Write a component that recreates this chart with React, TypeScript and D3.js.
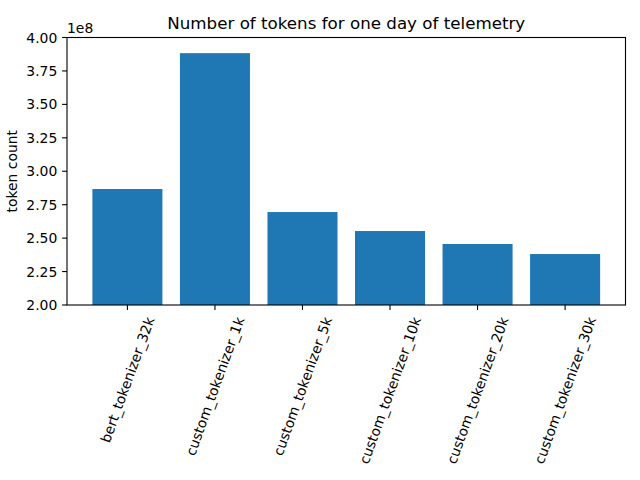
import { useEffect, useRef } from 'react';
import * as d3 from 'd3';

const tokenizers = [
  'bert_tokenizer_32k',
  'custom_tokenizer_1k',
  'custom_tokenizer_5k',
  'custom_tokenizer_10k',
  'custom_tokenizer_20k',
  'custom_tokenizer_30k',
];
const tokenCounts = [2.867e8, 3.883e8, 2.695e8, 2.553e8, 2.456e8, 2.381e8];
const yTicks = [2.0, 2.25, 2.5, 2.75, 3.0, 3.25, 3.5, 3.75, 4.0];

const FONT = '"DejaVu Sans", sans-serif';

export default function App() {
  const ref = useRef<SVGSVGElement>(null);

  useEffect(() => {
    if (!ref.current) return;
    const svg = d3.select(ref.current);
    svg.selectAll('*').remove();

    const left = 67, right = 625.5, top = 37.5, bottom = 305;
    const barWidth = 0.8;
    const pad = (tokenizers.length - 1 + barWidth) * 0.05;

    const x = d3.scaleLinear()
      .domain([-barWidth / 2 - pad, tokenizers.length - 1 + barWidth / 2 + pad])
      .range([left, right]);
    const y = d3.scaleLinear().domain([2.0, 4.0]).range([bottom, top]);

    // bars
    svg.append('g')
      .selectAll('rect')
      .data(tokenCounts)
      .enter()
      .append('rect')
      .attr('x', (_, i) => x(i - barWidth / 2))
      .attr('width', x(barWidth) - x(0))
      .attr('y', d => y(d / 1e8))
      .attr('height', d => bottom - y(d / 1e8))
      .attr('fill', '#1f77b4');

    // y axis ticks
    const yg = svg.append('g');
    yTicks.forEach(t => {
      yg.append('line')
        .attr('x1', left - 4.9).attr('x2', left)
        .attr('y1', y(t)).attr('y2', y(t))
        .attr('stroke', 'black').attr('stroke-width', 1.1);
      yg.append('text')
        .text(t.toFixed(2))
        .attr('x', left - 9.7)
        .attr('y', y(t))
        .attr('dy', '0.36em')
        .attr('text-anchor', 'end')
        .attr('font-family', FONT)
        .attr('font-size', 13.9)
        .attr('fill', 'black');
    });

    // x axis ticks + rotated labels
    const xg = svg.append('g');
    const fs = 13.9;
    const lineH = fs * 1.17;
    const rad = (70 * Math.PI) / 180;
    tokenizers.forEach((name, i) => {
      const cx = x(i);
      xg.append('line')
        .attr('x1', cx).attr('x2', cx)
        .attr('y1', bottom).attr('y2', bottom + 4.9)
        .attr('stroke', 'black').attr('stroke-width', 1.1);
      const label = xg.append('text')
        .text(name)
        .attr('font-family', FONT)
        .attr('font-size', fs)
        .attr('fill', 'black')
        .attr('text-anchor', 'middle')
        .attr('dominant-baseline', 'central');
      const len = (label.node() as SVGTextElement).getComputedTextLength();
      const boxH = len * Math.sin(rad) + lineH * Math.cos(rad);
      const cy = bottom + 4.9 + 4.9 + boxH / 2;
      label.attr('transform', `translate(${cx},${cy}) rotate(-70)`);
    });

    // spines
    svg.append('rect')
      .attr('x', left).attr('y', top)
      .attr('width', right - left).attr('height', bottom - top)
      .attr('fill', 'none')
      .attr('stroke', 'black')
      .attr('stroke-width', 1.1);

    // offset text
    svg.append('text')
      .text('1e8')
      .attr('x', left)
      .attr('y', top - 5)
      .attr('font-family', FONT)
      .attr('font-size', fs)
      .attr('fill', 'black');

    // title
    svg.append('text')
      .text('Number of tokens for one day of telemetry')
      .attr('x', (left + right) / 2)
      .attr('y', top - 9)
      .attr('text-anchor', 'middle')
      .attr('font-family', FONT)
      .attr('font-size', 16.7)
      .attr('fill', 'black');

    // y label
    svg.append('text')
      .text('token count')
      .attr('transform', `translate(17,${(top + bottom) / 2}) rotate(-90)`)
      .attr('text-anchor', 'middle')
      .attr('font-family', FONT)
      .attr('font-size', fs)
      .attr('fill', 'black');
  }, []);

  return (
    <svg
      ref={ref}
      width={640}
      height={480}
      style={{ position: 'absolute', left: 0, top: 0, background: 'white' }}
    />
  );
}
